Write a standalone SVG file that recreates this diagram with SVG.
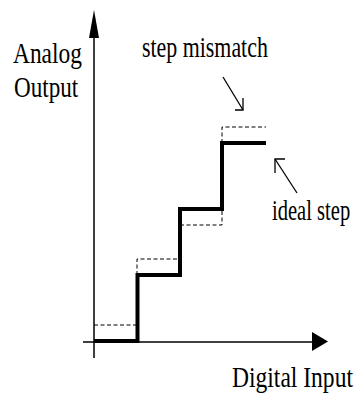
<svg xmlns="http://www.w3.org/2000/svg" width="359" height="394" viewBox="0 0 359 394">
<style>
.lbl{font-family:"Liberation Serif","DejaVu Serif",serif;font-size:30px;fill:#000}
.axis{stroke:#000;stroke-width:1.5;fill:none}
.thick{stroke:#000;stroke-width:4;fill:none;stroke-linejoin:miter}
.dash{stroke:#000;stroke-width:1;fill:none;stroke-dasharray:4 2.5}
.thin{stroke:#000;stroke-width:1.3;fill:none}
</style>
<rect width="359" height="394" fill="#fff"/>
<g id="connectors">
<line class="axis" x1="94" y1="358" x2="94" y2="36"/>
<polygon points="94,10 89,38 99,38" fill="#000"/>
<line class="axis" x1="83" y1="342" x2="314" y2="342"/>
<polygon points="328,341.5 312,332 312,351" fill="#000"/>
<polyline class="dash" points="94,325 137,325"/>
<polyline class="dash" points="137,275 137,259 180,259"/>
<polyline class="dash" points="180,225 222,225 222,209"/>
<polyline class="dash" points="222,143 222,127 266,127"/>
<polyline class="thick" points="94,341 137.5,341 137.5,275 180,275 180,209 222,209 222,143 266,143"/>
<line class="thin" x1="223" y1="77" x2="243" y2="110"/>
<polyline class="thin" points="235,110 243,110 243,98"/>
<line class="thin" x1="297" y1="193" x2="275" y2="159"/>
<polyline class="thin" points="285,159 275,159 275,173"/>
</g>
<g id="label-analog-output">
<text class="lbl" transform="translate(13,63) scale(0.78,1)">Analog</text>
<text class="lbl" transform="translate(14,97) scale(0.77,1)">Output</text>
</g>
<g id="label-step-mismatch">
<text class="lbl" transform="translate(142,57) scale(0.73,1)">step mismatch</text>
</g>
<g id="label-ideal-step">
<text class="lbl" transform="translate(272,220) scale(0.685,1)">ideal step</text>
</g>
<g id="label-digital-input">
<text class="lbl" transform="translate(232,387) scale(0.785,1)">Digital Input</text>
</g>
</svg>
